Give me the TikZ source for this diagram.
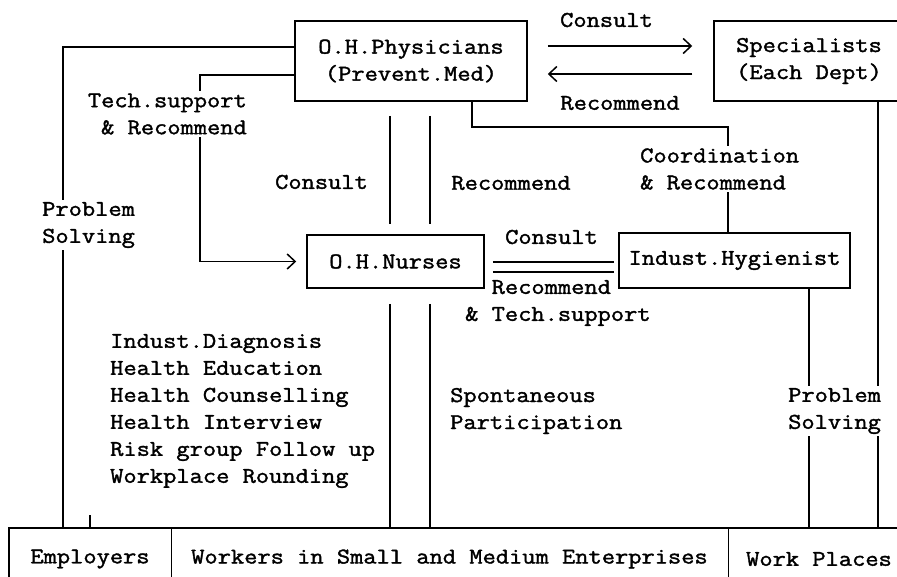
\documentclass[tikz,border=0pt]{standalone}
\usepackage{fontspec}
\setmonofont{Latin Modern Mono}[FakeStretch=1.143,FakeBold=1.6]
\usetikzlibrary{positioning,arrows.meta}

\tikzset{ohBox/.style={draw,rectangle,line width=1.5pt,inner sep=0pt,align=center},
 ohCell/.style={rectangle,inner sep=0pt,outer sep=0pt,minimum height=62},
 ohLabel/.style={inner sep=2pt},
 ohOnLine/.style={fill=white,inner sep=2pt},
 ohLink/.style={line width=1.5pt},
 ohArrow/.style={line width=1.5pt,-{Straight Barb[length=8pt,width=15pt,line width=1.5pt]}}}

\begin{document}
\begin{tikzpicture}[x=1pt,y=-1pt,font=\ttfamily\fontsize{22.5}{27}\selectfont]
\path[use as bounding box,clip] (0,0) rectangle (897,576);
% boxes
\node[ohBox,minimum width=232,minimum height=80] (phys) at (411,61) {O.H.Physicians\\(Prevent.Med)};
\node[ohBox,minimum width=190,minimum height=80] (spec) at (809,61) {Specialists\\(Each Dept)};
\node[ohBox,minimum width=177,minimum height=53] (nurse) at (395.5,261.5) {O.H.Nurses};
\node[ohBox,minimum width=231,minimum height=55] (hyg) at (734.5,260.5) {Indust.Hygienist};
% bottom row
\node[ohCell,minimum width=162] (emp) at (90,559) {Employers};
\node[ohCell,minimum width=557,right=0pt of emp] (wrk) {Workers in Small and Medium Enterprises};
\node[ohCell,minimum width=182,right=0pt of wrk] (wp) {Work Places};
\draw[ohLink] (emp.south west) rectangle (wp.north east);
\draw[line width=0.8pt] (emp.north east) -- (emp.south east);
\draw[line width=0.8pt] (wrk.north east) -- (wrk.south east);
\draw[ohLink] (emp.north) -- ++(0,-13);

\coordinate (colPS) at (63,0);
\coordinate (colTS) at (200,150);
\coordinate (colA) at (390,0);
\coordinate (colB) at (430,0);
\coordinate (colC) at (472,127);
\coordinate (colD) at (728,0);
\coordinate (colE) at (809,0);
\coordinate (colF) at (878,0);
\coordinate (rowA) at (0,262);
\coordinate (rowB) at (0,272);

% connectors
\draw[ohLink] ([yshift=14pt]phys.west) -| (colPS |- emp.north);
\draw[ohArrow,shorten >=10pt] ([yshift=-14pt]phys.west) -| (colTS) |- (nurse.west);
\draw[ohArrow,shorten <=20pt,shorten >=21pt] ([yshift=15pt]phys.east) -- ([yshift=15pt]spec.west);
\draw[ohArrow,shorten <=21pt,shorten >=20pt] ([yshift=-13pt]spec.west) -- ([yshift=-13pt]phys.east);
\foreach \c in {colA,colB}{
\draw[ohLink,shorten <=14pt,shorten >=10pt] (phys.south -| \c) -- (nurse.north -| \c);
\draw[ohLink,shorten <=15pt] (nurse.south -| \c) -- (emp.north -| \c);}
\draw[ohLink] (phys.south -| colC) -- (colC) -| (hyg.north -| colD);
\foreach \r in {rowA,rowB}{
\draw[ohLink,shorten <=8pt,shorten >=4pt] (nurse.east |- \r) -- (hyg.west |- \r);}
\draw[ohLink] (hyg.south -| colE) -- (wp.north -| colE);
\draw[ohLink] (spec.south -| colF) -- (wp.north -| colF);

% labels
\node[ohOnLine,align=left,anchor=west] (lSolveL) at (40,225) {Problem\\Solving};
\node[ohOnLine,align=right,anchor=east] (lTech) at (249,114) {Tech.support\\\& Recommend};
\node[ohLabel] (lConsTop) at (606.5,20) {Consult};
\node[ohLabel] (lRecTop) at (620,103) {Recommend};
\node[ohLabel] (lConsMid) at (321.5,182) {Consult};
\node[ohLabel] (lRecMid) at (511,183) {Recommend};
\node[ohOnLine,align=left,anchor=west] (lCoord) at (638,169) {Coordination\\\& Recommend};
\node[ohLabel] (lConsHyg) at (551.5,237) {Consult};
\node[ohLabel,align=left,anchor=west] (lRecHyg) at (463,303) {\hphantom{\&~}Recommend\\\& Tech.support};
\node[ohOnLine,align=left,anchor=west] (lSolveR) at (786,411) {Problem\\Solving};
\node[ohLabel,align=left,anchor=west] (lTasks) at (108,411) {Indust.Diagnosis\\Health Education\\Health Counselling\\Health Interview\\Risk group Follow up\\Workplace Rounding};
\node[ohLabel,align=left,anchor=west] (lSpont) at (448,411) {Spontaneous\\Participation};
\end{tikzpicture}
\end{document}
